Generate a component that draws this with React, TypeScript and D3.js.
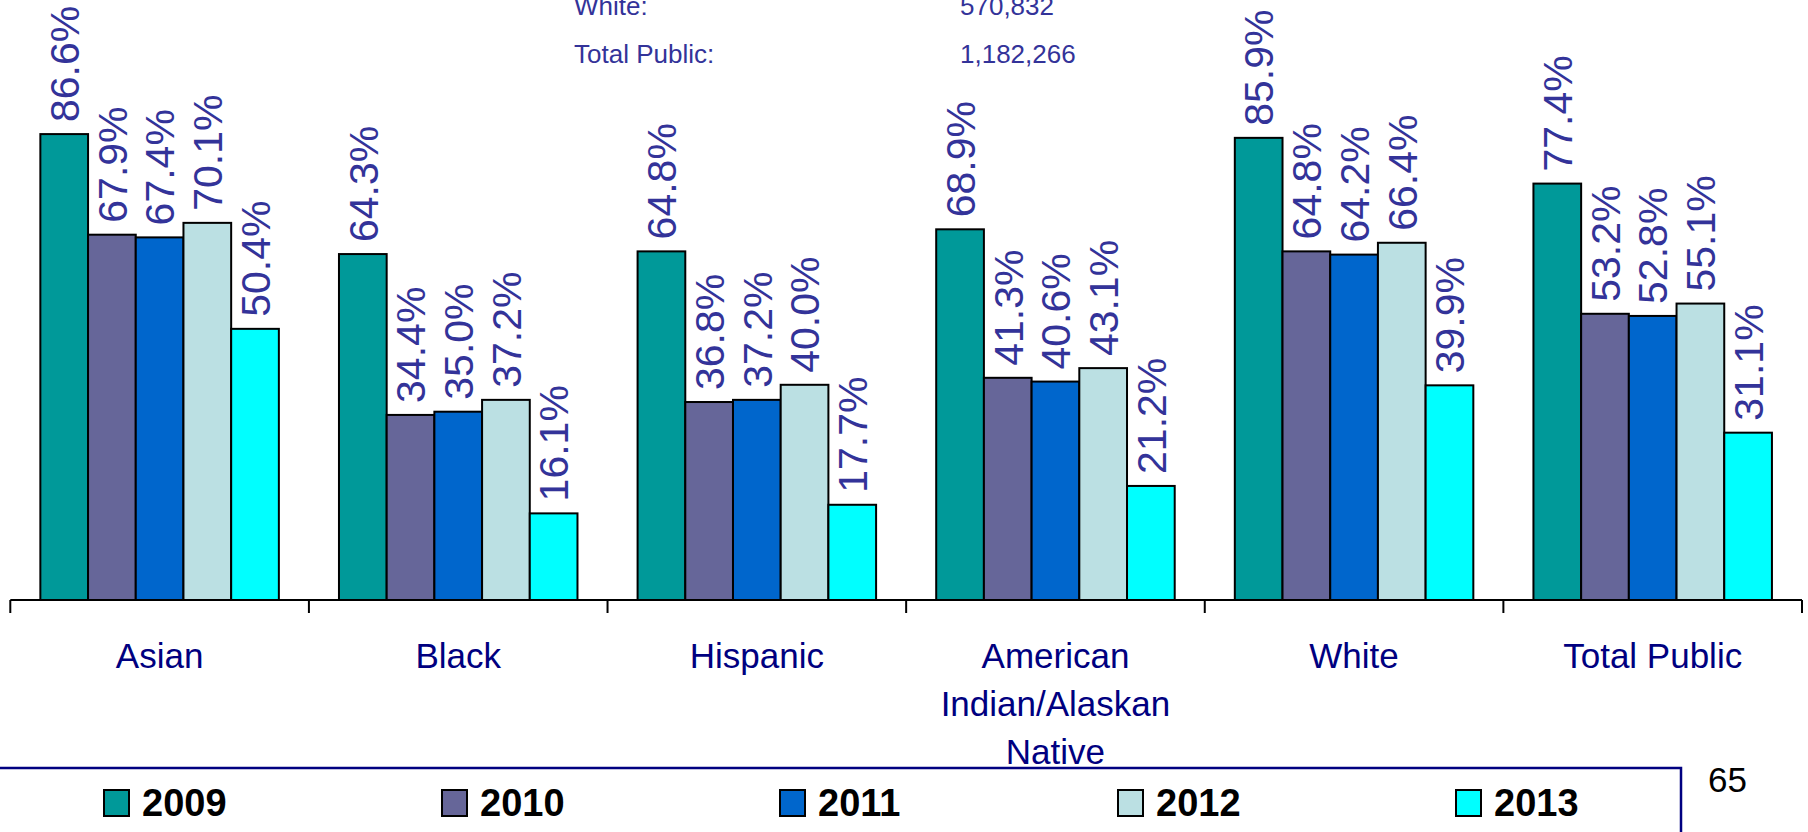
import React from "react";
import * as d3 from "d3";

const categories: string[][] = [
  ["Asian"],
  ["Black"],
  ["Hispanic"],
  ["American", "Indian/Alaskan", "Native"],
  ["White"],
  ["Total Public"],
];
const years = ["2009", "2010", "2011", "2012", "2013"];
const colors = ["#009999", "#666699", "#0066CC", "#BBE0E3", "#00FFFF"];

const v2009 = [86.6, 64.3, 64.8, 68.9, 85.9, 77.4];
const v2010 = [67.9, 34.4, 36.8, 41.3, 64.8, 53.2];
const v2011 = [67.4, 35.0, 37.2, 40.6, 64.2, 52.8];
const v2012 = [70.1, 37.2, 40.0, 43.1, 66.4, 55.1];
const v2013 = [50.4, 16.1, 17.7, 21.2, 39.9, 31.1];
const series = [v2009, v2010, v2011, v2012, v2013];

const headerRows = [
  ["White:", "570,832"],
  ["Total Public:", "1,182,266"],
];
const pageNumber = "65";

const W = 1808;
const H = 832;
const FONT = "'Liberation Sans', Arial, Helvetica, sans-serif";

export default function App() {
  const x0 = d3
    .scaleBand<number>()
    .domain(d3.range(categories.length))
    .range([10.3, 1802])
    .paddingInner(0)
    .paddingOuter(0);
  const x1 = d3
    .scaleBand<number>()
    .domain(d3.range(years.length))
    .range([0, x0.bandwidth()])
    .paddingInner(0)
    .paddingOuter(0.63);
  const y = d3.scaleLinear().domain([0, 100]).range([600, 62]);
  const baseY = y(0);

  const tickXs = d3.range(categories.length + 1).map((i) =>
    i < categories.length ? (x0(i) as number) : (x0(categories.length - 1) as number) + x0.bandwidth()
  );

  return (
    <svg
      width={W}
      height={H}
      style={{ position: "absolute", left: 0, top: 0, background: "#fff" }}
      fontFamily={FONT}
    >
      <rect x={0} y={0} width={W} height={H} fill="#fff" />
      {/* header text */}
      {headerRows.map((r, i) => (
        <g key={i} fill="#333399" fontSize={26}>
          <text x={574} y={15 + i * 48}>{r[0]}</text>
          <text x={960} y={15 + i * 48}>{r[1]}</text>
        </g>
      ))}
      {/* bars */}
      {categories.map((_, ci) => (
        <g key={ci} transform={`translate(${x0(ci)},0)`}>
          {series.map((s, si) => {
            const bx = x1(si) as number;
            const bw = x1.bandwidth();
            const top = y(s[ci]);
            const cx = bx + bw / 2;
            const ly = top - 12;
            return (
              <g key={si}>
                <rect
                  x={bx}
                  y={top}
                  width={bw}
                  height={baseY - top}
                  fill={colors[si]}
                  stroke="#000"
                  strokeWidth={2}
                />
                <text
                  transform={`translate(${cx},${ly}) rotate(-90)`}
                  dy="0.36em"
                  fontSize={41}
                  fill="#333399"
                  textAnchor="start"
                >
                  {s[ci].toFixed(1)}%
                </text>
              </g>
            );
          })}
        </g>
      ))}
      {/* axis */}
      <line x1={tickXs[0]} x2={tickXs[tickXs.length - 1]} y1={baseY} y2={baseY} stroke="#000" strokeWidth={2} />
      {tickXs.map((tx, i) => (
        <line key={i} x1={tx} x2={tx} y1={baseY} y2={baseY + 13} stroke="#000" strokeWidth={2} />
      ))}
      {/* category labels */}
      {categories.map((lines, ci) => (
        <text
          key={ci}
          x={(x0(ci) as number) + x0.bandwidth() / 2}
          y={668}
          fontSize={35}
          fill="#000080"
          textAnchor="middle"
        >
          {lines.map((l, li) => (
            <tspan key={li} x={(x0(ci) as number) + x0.bandwidth() / 2} dy={li === 0 ? 0 : 48}>
              {l}
            </tspan>
          ))}
        </text>
      ))}
      {/* legend box */}
      <path d={`M0,768 H1681 V${H}`} fill="none" stroke="#000080" strokeWidth={2.5} />
      {years.map((yr, i) => {
        const lx = 104 + i * 338;
        return (
          <g key={yr}>
            <rect x={lx} y={790} width={25} height={26} fill={colors[i]} stroke="#000" strokeWidth={2} />
            <text x={lx + 38} y={816} fontSize={38} fontWeight="bold" fill="#000">
              {yr}
            </text>
          </g>
        );
      })}
      <text x={1708} y={792} fontSize={35} fill="#000">
        {pageNumber}
      </text>
    </svg>
  );
}
